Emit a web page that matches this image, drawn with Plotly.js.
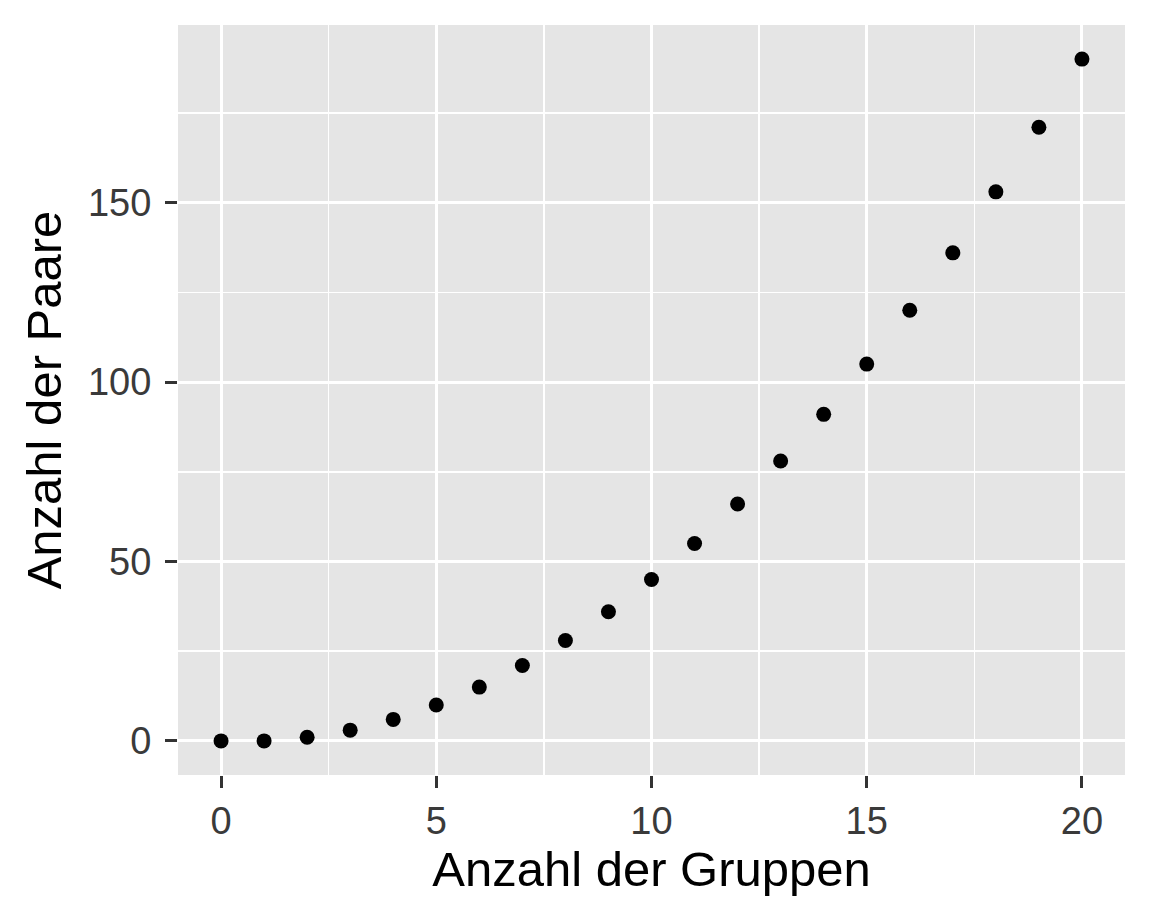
<!DOCTYPE html>
<html>
<head>
<meta charset="utf-8">
<script src="https://cdn.plot.ly/plotly-3.0.1.min.js"></script>
<style>
  html, body { margin: 0; padding: 0; background: #fff; }
  #chart { width: 1152px; height: 922px; }
</style>
</head>
<body>
<div id="chart"></div>
<script>
// Anzahl der Gruppen vs. Anzahl der Paare
var gruppen = [0, 1, 2, 3, 4, 5, 6, 7, 8, 9, 10, 11, 12, 13, 14, 15, 16, 17, 18, 19, 20];
var paare = [0, 0, 1, 3, 6, 10, 15, 21, 28, 36, 45, 55, 66, 78, 91, 105, 120, 136, 153, 171, 190];
var xTicks = [0, 5, 10, 15, 20];
var yTicks = [0, 50, 100, 150];

var fontFam = "Liberation Sans, Arial, Helvetica, sans-serif";

var trace = {
  type: "scatter",
  mode: "markers",
  x: gruppen,
  y: paare,
  marker: { color: "#000000", size: 15 },
  hoverinfo: "x+y"
};

var axisCommon = {
  showline: false,
  zeroline: false,
  showgrid: true,
  gridcolor: "#ffffff",
  gridwidth: 3,
  ticks: "outside",
  ticklen: 12,
  tickwidth: 3,
  tickcolor: "#333333",
  tickfont: { family: fontFam, size: 38, color: "#3a3a3a" }
};

var layout = {
  width: 1152,
  height: 922,
  paper_bgcolor: "#ffffff",
  plot_bgcolor: "#e5e5e5",
  showlegend: false,
  margin: { l: 178, r: 27, t: 25, b: 147 },
  xaxis: Object.assign({}, axisCommon, {
    range: [-1, 21],
    automargin: false,
    tickmode: "array",
    tickvals: xTicks,
    ticktext: xTicks.map(String),
    minor: { dtick: 2.5, tick0: 0, showgrid: true, gridcolor: "#ffffff", gridwidth: 1.6, ticks: "" },
    title: { text: "Anzahl der Gruppen", font: { family: fontFam, size: 49, color: "#000000" }, standoff: 10 }
  }),
  yaxis: Object.assign({}, axisCommon, {
    range: [-9.5, 199.5],
    automargin: false,
    ticklabelstandoff: 6,
    tickmode: "array",
    tickvals: yTicks,
    ticktext: yTicks.map(String),
    minor: { dtick: 25, tick0: 0, showgrid: true, gridcolor: "#ffffff", gridwidth: 1.6, ticks: "" },
    title: { text: "Anzahl der Paare", font: { family: fontFam, size: 49, color: "#000000" }, standoff: 10 }
  })
};

Plotly.newPlot("chart", [trace], layout, { displayModeBar: false, staticPlot: true });
</script>
</body>
</html>
